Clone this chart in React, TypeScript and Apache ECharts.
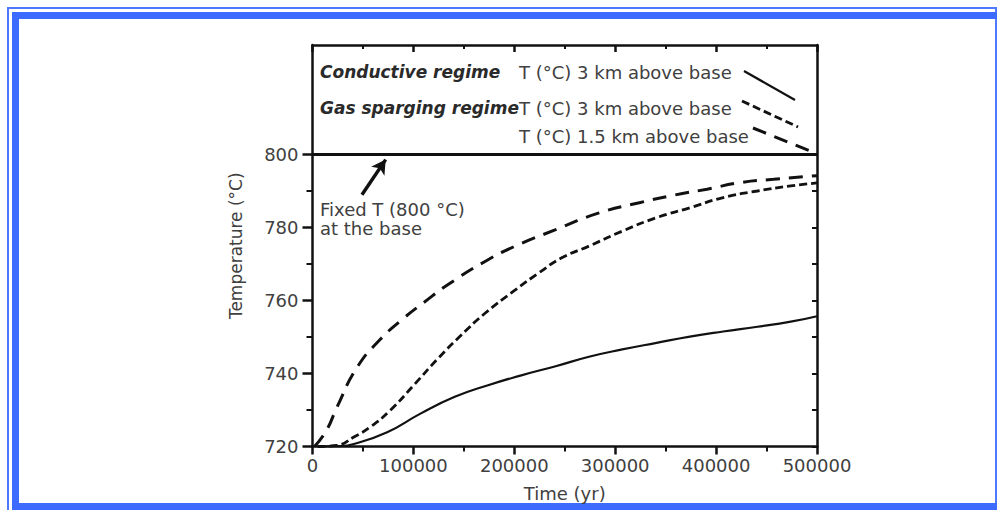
import React, { useEffect, useRef } from "react";
import * as echarts from "echarts";

// ---- data ----
const xMin = 0;
const xMax = 500000;
const xInterval = 100000;
const yMin = 720;
const yMax = 830;
const yMajorTicks = [720, 740, 760, 780, 800];
const yMinorTicks = [730, 750, 770, 790];
const yRightTicks = [720, 730, 740, 750, 760, 770, 780, 790, 800];

// Conductive regime, T 3 km above base (solid)
const condX = [10000, 25000, 41000, 74000, 107000, 141000, 174000, 207000, 241000, 274000, 307000, 341000, 374000, 407000, 441000, 474000, 500000];
const condY = [720, 720.1, 720.7, 723.9, 729, 733.6, 736.8, 739.5, 742, 744.6, 746.6, 748.4, 750.1, 751.5, 752.8, 754.2, 755.7];

// Gas sparging regime, T 3 km above base (short dash)
const gas3X = [5000, 24000, 41000, 57000, 77000, 101000, 124000, 147000, 171000, 201000, 224000, 247000, 274000, 307000, 341000, 374000, 407000, 441000, 474000, 500000];
const gas3Y = [720, 720.3, 722.6, 725.3, 729.9, 737, 744, 750.4, 756.5, 762.9, 767.5, 771.7, 774.9, 779, 782.7, 785.4, 788.2, 790, 791.4, 792.2];

// Gas sparging regime, T 1.5 km above base (long dash)
const gas15X = [2000, 14000, 24000, 44000, 67000, 91000, 111000, 134000, 171000, 201000, 241000, 284000, 324000, 357000, 391000, 424000, 457000, 500000];
const gas15Y = [720, 724.5, 730.6, 741.6, 749.3, 755.3, 759.6, 764.3, 770.7, 774.9, 779.4, 784, 786.8, 788.8, 790.5, 792.3, 793.2, 794.2];

// fixed base temperature line
const baseX = [0, 500000];
const baseY = [800, 800];

// arrow annotation (data coords)
const arrowTail = [49000, 789];
const arrowHead = [72500, 798.6];

const legendTitles = ["Conductive regime", "Gas sparging regime"];
const legendLabels = ["T (°C) 3 km above base", "T (°C) 3 km above base", "T (°C) 1.5 km above base"];
const annotationText = "Fixed T (800 °C)\nat the base";

const zip = (xs: number[], ys: number[]) => xs.map((x, i) => [x, ys[i]]);

const FONT = "DejaVu Sans";
const TXT = "#404040";
const BLUE = "#3d6bff";

export default function App() {
  const ref = useRef<HTMLDivElement>(null);

  useEffect(() => {
    if (!ref.current) return;
    const chart = echarts.init(ref.current, undefined, { renderer: "svg" });
    const axisLine = { show: true, lineStyle: { color: "#111", width: 2.5 } };
    const tickStyle = { color: "#111", width: 2.5 };

    chart.setOption({
      animation: false,
      backgroundColor: "#fff",
      grid: { left: 312.5, right: 180, top: 45, bottom: 63.5, containLabel: false, outerBoundsMode: "none" },
      xAxis: [
        {
          type: "value",
          position: "bottom",
          min: xMin,
          max: xMax,
          interval: xInterval,
          axisLine,
          axisTick: { show: true, inside: false, length: 8, lineStyle: tickStyle },
          minorTick: { show: true, splitNumber: 2, length: 5, lineStyle: { color: "#111", width: 2 } },
          axisLabel: { margin: 10, fontSize: 18, fontFamily: FONT, color: TXT, formatter: (v: number) => String(v) },
          splitLine: { show: false },
          name: "Time (yr)",
          nameLocation: "middle",
          nameGap: 38,
          nameTextStyle: { fontSize: 18, fontFamily: FONT, color: TXT },
        },
        {
          type: "value",
          position: "top",
          min: xMin,
          max: xMax,
          interval: xInterval,
          axisLine,
          axisTick: { show: true, inside: true, length: 7, lineStyle: tickStyle },
          minorTick: { show: true, splitNumber: 2, length: 4, lineStyle: { color: "#111", width: 2 } },
          axisLabel: { show: false },
          splitLine: { show: false },
        },
      ],
      yAxis: [
        {
          type: "value",
          position: "left",
          min: yMin,
          max: yMax,
          interval: 10,
          axisLine,
          axisTick: { show: true, inside: false, length: 10, lineStyle: tickStyle, customValues: yMajorTicks },
          axisLabel: { margin: 14, fontSize: 18, fontFamily: FONT, color: TXT, customValues: yMajorTicks },
          splitLine: { show: false },
          name: "Temperature (°C)",
          nameLocation: "middle",
          nameRotate: 90,
          nameGap: 68,
          nameTextStyle: { fontSize: 17, fontFamily: FONT, color: TXT },
        },
        {
          type: "value",
          position: "left",
          min: yMin,
          max: yMax,
          interval: 10,
          axisLine: { show: false },
          axisTick: { show: true, inside: false, length: 6, lineStyle: { color: "#111", width: 2 }, customValues: yMinorTicks },
          axisLabel: { show: false },
          splitLine: { show: false },
        },
        {
          type: "value",
          position: "right",
          min: yMin,
          max: yMax,
          interval: 10,
          axisLine,
          axisTick: { show: true, inside: true, length: 5, lineStyle: { color: "#111", width: 2 }, customValues: yRightTicks },
          axisLabel: { show: false },
          splitLine: { show: false },
        },
      ],
      series: [
        {
          name: "base",
          type: "line",
          data: zip(baseX, baseY),
          symbol: "none",
          lineStyle: { color: "#111", width: 3 },
          silent: true,
          markLine: {
            silent: true,
            symbol: ["none", "arrow"],
            symbolSize: [12, 14],
            label: { show: false },
            lineStyle: { color: "#111", width: 3.5, type: "solid" },
            data: [[{ coord: arrowTail }, { coord: arrowHead }]],
          },
        },
        {
          name: "Conductive 3 km",
          type: "line",
          data: zip(condX, condY),
          symbol: "none",
          smooth: 0.5,
          lineStyle: { color: "#111", width: 2.2 },
        },
        {
          name: "Gas sparging 3 km",
          type: "line",
          data: zip(gas3X, gas3Y),
          symbol: "none",
          smooth: 0.5,
          lineStyle: { color: "#111", width: 2.8, type: [8, 4] },
        },
        {
          name: "Gas sparging 1.5 km",
          type: "line",
          data: zip(gas15X, gas15Y),
          symbol: "none",
          smooth: 0.5,
          lineStyle: { color: "#111", width: 3, type: [14, 9] },
        },
      ],
      graphic: [
        // blue frame
        { type: "rect", shape: { x: 8, y: 8, width: 988, height: 520 }, style: { fill: "none", stroke: "#4d78ff", lineWidth: 2 }, silent: true },
        { type: "rect", shape: { x: 12, y: 12, width: 985, height: 7 }, style: { fill: BLUE }, silent: true },
        { type: "rect", shape: { x: 12, y: 12, width: 7, height: 498 }, style: { fill: BLUE }, silent: true },
        { type: "rect", shape: { x: 12, y: 503, width: 985, height: 7 }, style: { fill: BLUE }, silent: true },
        // legend
        { type: "text", x: 320, y: 72, style: { text: legendTitles[0], font: `italic bold 17px '${FONT}'`, fill: "#2a2a2a", verticalAlign: "middle" } },
        { type: "text", x: 320, y: 108, style: { text: legendTitles[1], font: `italic bold 17px '${FONT}'`, fill: "#2a2a2a", verticalAlign: "middle" } },
        { type: "text", x: 519, y: 72, style: { text: legendLabels[0], font: `18px '${FONT}'`, fill: TXT, verticalAlign: "middle" } },
        { type: "text", x: 519, y: 108, style: { text: legendLabels[1], font: `18px '${FONT}'`, fill: TXT, verticalAlign: "middle" } },
        { type: "text", x: 519, y: 136, style: { text: legendLabels[2], font: `18px '${FONT}'`, fill: TXT, verticalAlign: "middle" } },
        { type: "line", shape: { x1: 744, y1: 71, x2: 795, y2: 100 }, style: { stroke: "#111", lineWidth: 2.2 } },
        { type: "line", shape: { x1: 742, y1: 101, x2: 798, y2: 127 }, style: { stroke: "#111", lineWidth: 2.8, lineDash: [8, 4] } },
        { type: "line", shape: { x1: 753, y1: 128, x2: 810, y2: 151 }, style: { stroke: "#111", lineWidth: 3, lineDash: [14, 9] } },
        // annotation
        { type: "text", x: 320, y: 200, style: { text: annotationText, font: `18px '${FONT}'`, fill: TXT, lineHeight: 19, verticalAlign: "top" } },
      ],
    });
    return () => chart.dispose();
  }, []);

  return <div ref={ref} style={{ position: "absolute", left: 0, top: 0, width: 997, height: 510 }} />;
}
